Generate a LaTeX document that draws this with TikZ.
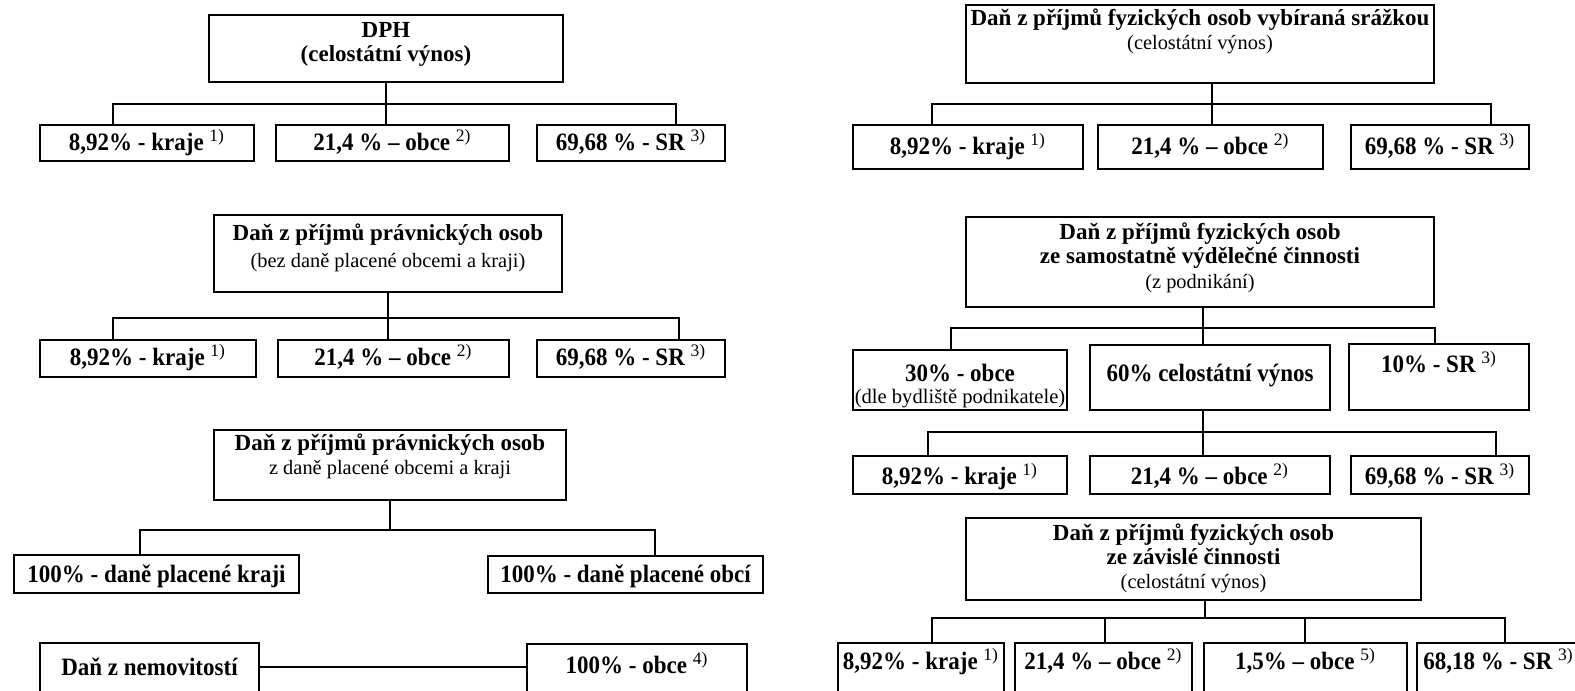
\documentclass[tikz,border=0pt]{standalone}
\usepackage{fontspec}
\setmainfont{Liberation Serif}
\newfontfamily\rowfam[FakeStretch=0.92,Ligatures=TeX]{Liberation Serif}
\usetikzlibrary{calc}
\tikzset{
  box/.style={draw, line width=1pt, inner sep=0pt, outer sep=0pt},
  conn/.style={line width=0.8pt},
  rowtxt/.style={font=\rowfam\fontsize{12.5}{14}\selectfont\bfseries, inner sep=0pt},
  ttlb/.style={font=\fontsize{11.5}{13}\selectfont\bfseries, inner sep=0pt},
  ttln/.style={font=\fontsize{10.2}{12}\selectfont, inner sep=0pt},
  smalln/.style={font=\fontsize{10.3}{12}\selectfont, inner sep=0pt},
}
\newcommand\bx[5]{\node[box, anchor=north west, minimum width={(#4-#2)*0.5pt}, minimum height={(#5-#3)*0.5pt}] (#1) at (#2,#3) {};}
\newcommand\tx[5]{\node[#3, anchor=base] (#1) at ($(#2.north)+(0,#4)$) {#5};}
\newcommand\fn[1]{~\textsuperscript{\normalfont #1}}
\begin{document}
\begin{tikzpicture}[x=0.5pt, y=-0.5pt]
\useasboundingbox (0,0) rectangle (1575,691);
% ---------------- left column ----------------
\bx{dph}{209}{15}{563}{82}
\tx{dph-t1}{dph}{ttlb}{22}{DPH}
\tx{dph-t2}{dph}{ttlb}{46}{(celostátní výnos)}
\bx{a1}{40}{125}{254}{161}
\bx{b1}{276}{125}{509}{161}
\bx{c1}{537}{125}{725}{161}
\tx{a1-t}{a1}{rowtxt}{25}{8,92\% - kraje\fn{1)}}
\tx{b1-t}{b1}{rowtxt}{25}{21,4 \% – obce\fn{2)}}
\tx{c1-t}{c1}{rowtxt}{25}{69,68 \% - SR\fn{3)}}
\coordinate (j1l) at (113,104);
\coordinate (j1r) at (676,104);
\draw[conn] (dph.south) -- (dph.south |- b1.north);
\draw[conn] (a1.north -| j1l) |- (j1r) -- (j1r |- c1.north);

\bx{p2}{214}{215}{562}{292}
\tx{p2-t1}{p2}{ttlb}{25}{Daň z příjmů právnických osob}
\tx{p2-t2}{p2}{ttln}{52}{(bez daně placené obcemi a kraji)}
\bx{a2}{40}{340}{256}{377}
\bx{b2}{278}{340}{509}{377}
\bx{c2}{537}{340}{725}{377}
\tx{a2-t}{a2}{rowtxt}{25}{8,92\% - kraje\fn{1)}}
\tx{b2-t}{b2}{rowtxt}{25}{21,4 \% – obce\fn{2)}}
\tx{c2-t}{c2}{rowtxt}{25}{69,68 \% - SR\fn{3)}}
\coordinate (j2l) at (113,318);
\coordinate (j2r) at (679,318);
\draw[conn] (p2.south) -- (p2.south |- b2.north);
\draw[conn] (a2.north -| j2l) |- (j2r) -- (j2r |- c2.north);

\bx{p3}{214}{430}{566}{500}
\tx{p3-t1}{p3}{ttlb}{20}{Daň z příjmů právnických osob}
\tx{p3-t2}{p3}{ttln}{44}{z daně placené obcemi a kraji}
\bx{a3}{14}{555}{299}{593}
\bx{b3}{488}{556}{763}{593}
\tx{a3-t}{a3}{rowtxt}{27}{100\% - daně placené kraji}
\tx{b3-t}{b3}{rowtxt}{26}{100\% - daně placené obcí}
\coordinate (j3l) at (140,530);
\coordinate (j3r) at (655,530);
\draw[conn] (p3.south) -- (p3.south |- j3l);
\draw[conn] (a3.north -| j3l) |- (j3r) -- (j3r |- b3.north);

\bx{nem}{40}{643}{259}{700}
\bx{ob4}{527}{644}{747}{700}
\tx{nem-t}{nem}{rowtxt}{32}{Daň z nemovitostí}
\tx{ob4-t}{ob4}{rowtxt}{29}{100\% - obce\fn{4)}}
\coordinate (jn) at (0,667);
\draw[conn] (nem.east |- jn) -- (ob4.west |- jn);

% ---------------- right column ----------------
\bx{rt}{966}{5}{1434}{83}
\tx{rt-t1}{rt}{ttlb}{20}{Daň z příjmů fyzických osob vybíraná srážkou}
\tx{rt-t2}{rt}{ttln}{44}{(celostátní výnos)}
\bx{r1a}{853}{125}{1083}{169}
\bx{r1b}{1098}{125}{1323}{169}
\bx{r1c}{1351}{125}{1529}{169}
\tx{r1a-t}{r1a}{rowtxt}{29}{8,92\% - kraje\fn{1)}}
\tx{r1b-t}{r1b}{rowtxt}{29}{21,4 \% – obce\fn{2)}}
\tx{r1c-t}{r1c}{rowtxt}{29}{69,68 \% - SR\fn{3)}}
\coordinate (k1c) at (1212,104);
\coordinate (k1l) at (932,104);
\coordinate (k1r) at (1491,104);
\draw[conn] (rt.south -| k1c) -- (k1c |- r1b.north);
\draw[conn] (r1a.north -| k1l) |- (k1r) -- (k1r |- r1c.north);

\bx{sv}{966}{217}{1434}{307}
\tx{sv-t1}{sv}{ttlb}{22}{Daň z příjmů fyzických osob}
\tx{sv-t2}{sv}{ttlb}{46}{ze samostatně výdělečné činnosti}
\tx{sv-t3}{sv}{ttln}{71}{(z podnikání)}
\bx{s30}{853}{350}{1067}{410}
\bx{s60}{1090}{345}{1330}{410}
\bx{s10}{1349}{344}{1529}{410}
\tx{s30-t1}{s30}{rowtxt}{31}{30\% - obce}
\tx{s30-t2}{s30}{smalln}{53}{(dle bydliště podnikatele)}
\tx{s60-t}{s60}{rowtxt}{36}{60\% celostátní výnos}
\tx{s10-t}{s10}{rowtxt}{28}{10\% - SR\fn{3)}}
\coordinate (k2c) at (1203,328);
\coordinate (k2l) at (951,328);
\coordinate (k2r) at (1435,328);
\draw[conn] (sv.south -| k2c) -- (k2c |- s60.north);
\draw[conn] (s30.north -| k2l) |- (k2r) -- (k2r |- s10.north);

\bx{r3a}{853}{456}{1067}{494}
\bx{r3b}{1090}{456}{1330}{494}
\bx{r3c}{1351}{456}{1529}{494}
\tx{r3a-t}{r3a}{rowtxt}{28}{8,92\% - kraje\fn{1)}}
\tx{r3b-t}{r3b}{rowtxt}{28}{21,4 \% – obce\fn{2)}}
\tx{r3c-t}{r3c}{rowtxt}{28}{69,68 \% - SR\fn{3)}}
\coordinate (k3c) at (1203,432);
\coordinate (k3l) at (928,432);
\coordinate (k3r) at (1496,432);
\draw[conn] (s60.south -| k3c) -- (k3c |- r3b.north);
\draw[conn] (r3a.north -| k3l) |- (k3r) -- (k3r |- r3c.north);

\bx{zv}{966}{518}{1421}{600}
\tx{zv-t1}{zv}{ttlb}{22}{Daň z příjmů fyzických osob}
\tx{zv-t2}{zv}{ttlb}{46}{ze závislé činnosti}
\tx{zv-t3}{zv}{ttln}{70}{(celostátní výnos)}
\bx{r4a}{838}{643}{1004}{700}
\bx{r4b}{1015}{643}{1192}{700}
\bx{r4c}{1204}{643}{1407}{700}
\bx{r4d}{1417}{643}{1580}{700}
\tx{r4a-t}{r4a}{rowtxt}{26}{8,92\% - kraje\fn{1)}}
\tx{r4b-t}{r4b}{rowtxt}{26}{21,4 \% – obce\fn{2)}}
\tx{r4c-t}{r4c}{rowtxt}{26}{1,5\% – obce\fn{5)}}
\tx{r4d-t}{r4d}{rowtxt}{26}{68,18 \% - SR\fn{3)}}
\coordinate (k4c) at (1205,618);
\coordinate (k4l) at (932,618);
\coordinate (k4r) at (1505,618);
\coordinate (k4m1) at (1105,618);
\coordinate (k4m2) at (1305,618);
\draw[conn] (zv.south -| k4c) -- (k4c);
\draw[conn] (r4a.north -| k4l) |- (k4r) -- (k4r |- r4d.north);
\draw[conn] (k4m1) -- (k4m1 |- r4b.north);
\draw[conn] (k4m2) -- (k4m2 |- r4c.north);
\end{tikzpicture}
\end{document}
